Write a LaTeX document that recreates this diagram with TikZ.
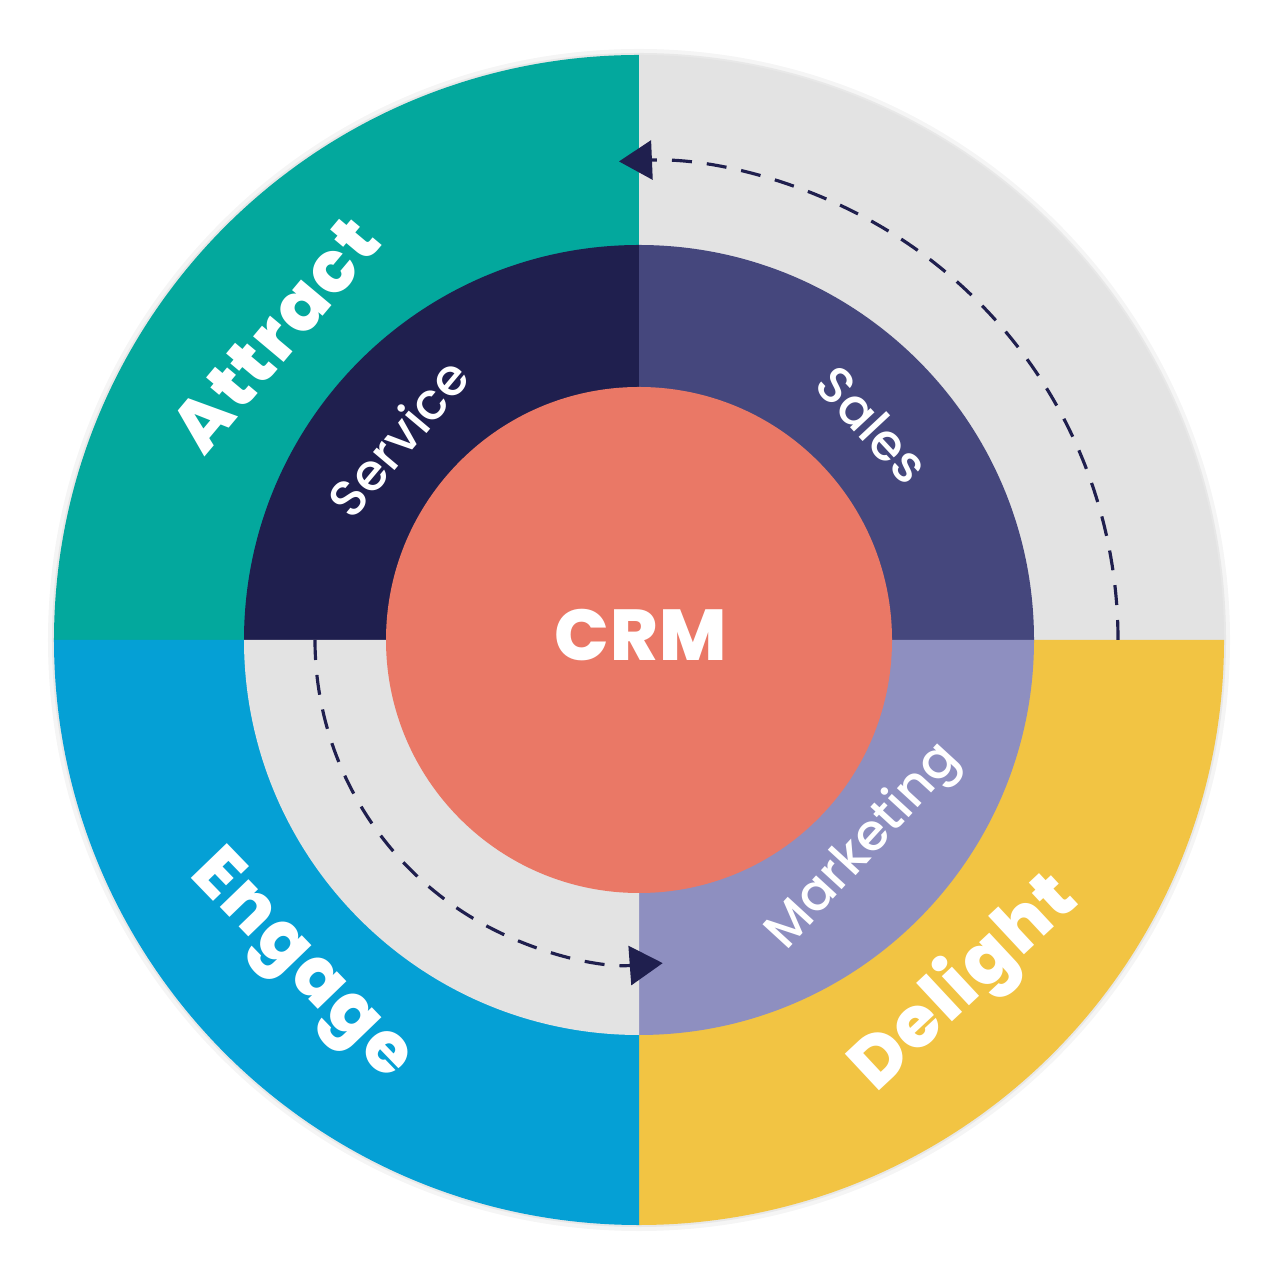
\documentclass[tikz,border=0pt]{standalone}
\usepackage{fontspec}
\setmainfont{Poppins}
\IfFontExistsTF{Poppins ExtraBold}
  {\newfontfamily\heavyfont{Poppins ExtraBold}}
  {\newfontfamily\heavyfont{Poppins}[UprightFont=* Bold]}
\IfFontExistsTF{Poppins Medium}
  {\newfontfamily\mediumfont{Poppins Medium}}
  {\newfontfamily\mediumfont{Poppins}}
\usetikzlibrary{arrows.meta}

\definecolor{crmteal}{RGB}{3,168,157}
\definecolor{crmgray}{RGB}{227,227,227}
\definecolor{crmblue}{RGB}{5,160,213}
\definecolor{crmyellow}{RGB}{242,196,67}
\definecolor{crmnavy}{RGB}{31,31,78}
\definecolor{crmpurple}{RGB}{69,71,125}
\definecolor{crmlavender}{RGB}{142,143,192}
\definecolor{crmsalmon}{RGB}{234,120,102}

\begin{document}
\begin{tikzpicture}[
  outerlabel/.style={font=\heavyfont\addfontfeatures{LetterSpace=3}\fontsize{20.2}{24}\selectfont,text=white},
  innerlabel/.style={font=\mediumfont\fontsize{14.5}{17}\selectfont,text=white},
  flowarc/.style={draw=crmnavy,line width=0.9pt,dash pattern=on 0.2cm off 0.15cm,
    -{Triangle[length=0.33cm,width=0.39cm]}}
]
\useasboundingbox (-6.39,-6.40) rectangle (6.41,6.40);

% soft edge round the disc
\fill[black!4] (0,0) circle (5.91);
\fill[black!9] (0,0) circle (5.87);

% outer ring
\fill[crmteal] (0,0) -- (180:5.85) arc[start angle=180,end angle=90,radius=5.85] -- cycle;
\fill[crmgray] (0,0) -- (90:5.85) arc[start angle=90,end angle=0,radius=5.85] -- cycle;
\fill[crmyellow] (0,0) -- (0:5.85) arc[start angle=0,end angle=-90,radius=5.85] -- cycle;
\fill[crmblue] (0,0) -- (-90:5.85) arc[start angle=-90,end angle=-180,radius=5.85] -- cycle;

% middle ring
\fill[crmnavy] (0,0) -- (180:3.95) arc[start angle=180,end angle=90,radius=3.95] -- cycle;
\fill[crmpurple] (0,0) -- (90:3.95) arc[start angle=90,end angle=0,radius=3.95] -- cycle;
\fill[crmlavender] (0,0) -- (0:3.95) arc[start angle=0,end angle=-90,radius=3.95] -- cycle;
\fill[crmgray] (0,0) -- (-90:3.95) arc[start angle=-90,end angle=-180,radius=3.95] -- cycle;

% centre
\fill[crmsalmon] (0,0) circle (2.53);
\node[font=\heavyfont\addfontfeatures{LetterSpace=2}\fontsize{20.5}{24}\selectfont,text=white] (crm) at (0.02,0.05) {CRM};

% flow arcs
\draw[flowarc] (0:4.79) arc[start angle=0,end angle=92.4,radius=4.79];
\draw[flowarc] (180:3.24) arc[start angle=180,end angle=274.2,radius=3.24];

% labels
\node[outerlabel,rotate=50] (attract) at (140:4.75) {Attract};
\node[outerlabel,rotate=-46] (engage) at (224:4.72) {Engage};
\node[outerlabel,rotate=43] (delight) at (-46.5:4.74) {Delight};
\node[innerlabel,rotate=-47] (sales) at (42.7:3.18) {Sales};
\node[innerlabel,rotate=50] (service) at (140:3.15) {Service};
\node[innerlabel,rotate=47.5] (marketing) at (-42.6:3.06) {Marketing};

\end{tikzpicture}
\end{document}
